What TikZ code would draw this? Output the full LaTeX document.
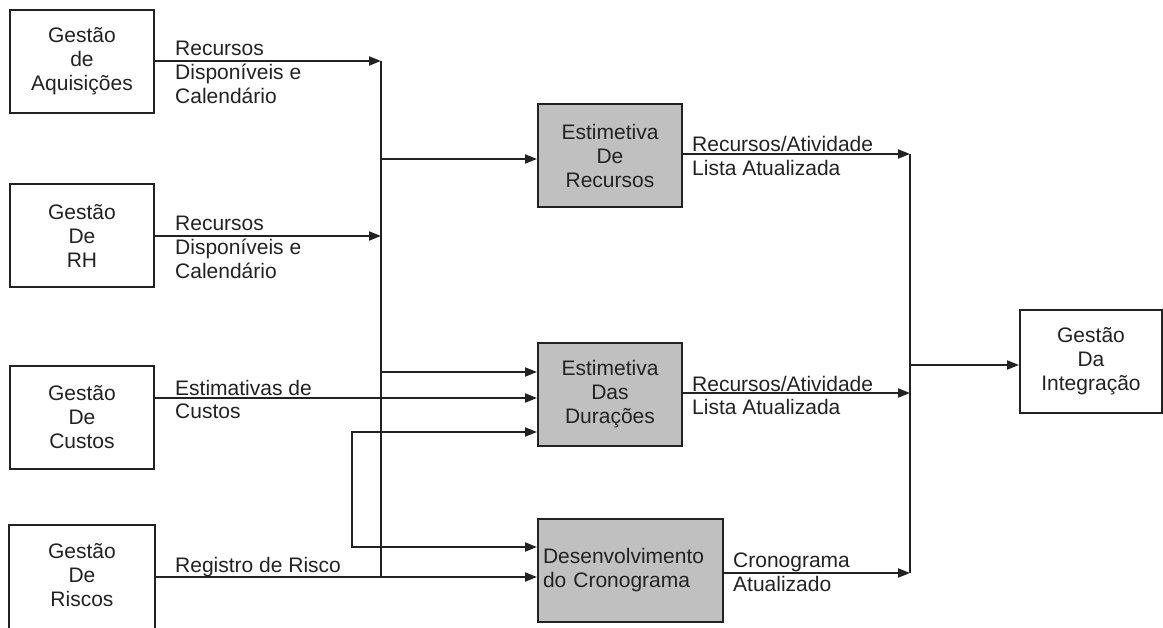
\documentclass[tikz,border=0pt]{standalone}
\usepackage{fontspec}
\setmainfont{Liberation Sans}
\usetikzlibrary{arrows.meta}
\definecolor{ink}{HTML}{222222}
\definecolor{boxgray}{HTML}{C0C0C0}
\tikzset{
  txt/.style={font=\fontsize{21}{24}\selectfont, text=ink},
  wbox/.style={txt, draw=ink, line width=2pt, fill=white, minimum width=144pt, minimum height=103pt, align=center, inner sep=0pt},
  gbox/.style={wbox, fill=boxgray},
  lbl/.style={txt, align=left, inner sep=0pt, anchor=base west},
  conn/.style={draw=ink, line width=1.8pt},
  arr/.style={conn, -{Triangle[length=12pt,width=9pt]}},
  darr/.style={conn, {Triangle[length=12pt,width=9pt]}-{Triangle[length=12pt,width=9pt]}},
}
\begin{document}
\begin{tikzpicture}[x=1pt,y=-1pt]
\useasboundingbox (0,0) rectangle (1163,628);
\clip (0,0) rectangle (1163,628);
\fill[white] (0,0) rectangle (1163,628);

% source boxes
\node[wbox] (A) at (82,61.5) {Gestão\\de\\Aquisições};
\node[wbox] (R) at (82,235.5) {Gestão\\De\\RH};
\node[wbox] (C) at (82,417.5) {Gestão\\De\\Custos};
\node[wbox, draw=none, fill=none, minimum height=98pt] (K) at (82,575) {Gestão\\De\\Riscos};
\draw[draw=ink, line width=2pt] ([yshift=-60pt]K.south west) -- (K.north west) -- (K.north east) -- ([yshift=-60pt]K.south east);

% process boxes
\node[gbox] (ER) at (610,155.5) {Estimetiva\\De\\Recursos};
\node[gbox] (ED) at (610,394.5) {Estimetiva\\Das\\Durações};
\node[gbox, minimum width=185pt, text width=175pt, align=left] (DC) at (630.5,570.5) {Desenvolvimento\\do Cronograma};

% target
\node[wbox, minimum width=142pt] (GI) at (1091,361.5) {Gestão\\Da\\Integração};

% bus coordinates
\coordinate (b1) at (381,61);
\coordinate (b2) at (381,236);
\coordinate (bER) at (381,159);
\coordinate (bED) at (381,372);
\coordinate (bb) at (381,577);
\coordinate (c1) at (381,398);
\coordinate (l1) at (352,432);
\coordinate (l2) at (352,547);
\coordinate (r1) at (910,154);
\coordinate (r2) at (910,393);
\coordinate (r3) at (910,573);
\coordinate (rm) at (910,365);

% left side connectors
\draw[arr] (A.east |- b1) -- (b1);
\draw[arr] (R.east |- b2) -- (b2);
\draw[conn] (b1) -- (bb);
\draw[arr] (bER) -- (bER -| ER.west);
\draw[arr] (bED) -- (bED -| ED.west);
\draw[arr] (C.east |- c1) -- (c1 -| ED.west);
\draw[arr] (K.east |- bb) -- (bb -| DC.west);
\draw[darr] (l1 -| ED.west) -- (l1) -- (l2) -- (l2 -| DC.west);

% right side connectors
\draw[arr] (r1 -| ER.east) -- (r1);
\draw[arr] (r2 -| ED.east) -- (r2);
\draw[arr] (r3 -| DC.east) -- (r3);
\draw[conn] (r1) -- (r3);
\draw[arr] (rm) -- (rm -| GI.west);

% labels (anchor = baseline of last line)
\node[lbl] (la) at (175,104) {Recursos\\Disponíveis e\\Calendário};
\node[lbl] (lr) at (175,279) {Recursos\\Disponíveis e\\Calendário};
\node[lbl] (lc) at (175,419) {Estimativas de\\Custos};
\node[lbl] (lk) at (175,572) {Registro de Risco};
\node[lbl] (ler) at (692,176) {Recursos/Atividade\\Lista Atualizada};
\node[lbl] (led) at (692,415) {Recursos/Atividade\\Lista Atualizada};
\node[lbl] (ldc) at (733,591) {Cronograma\\Atualizado};
\end{tikzpicture}
\end{document}
